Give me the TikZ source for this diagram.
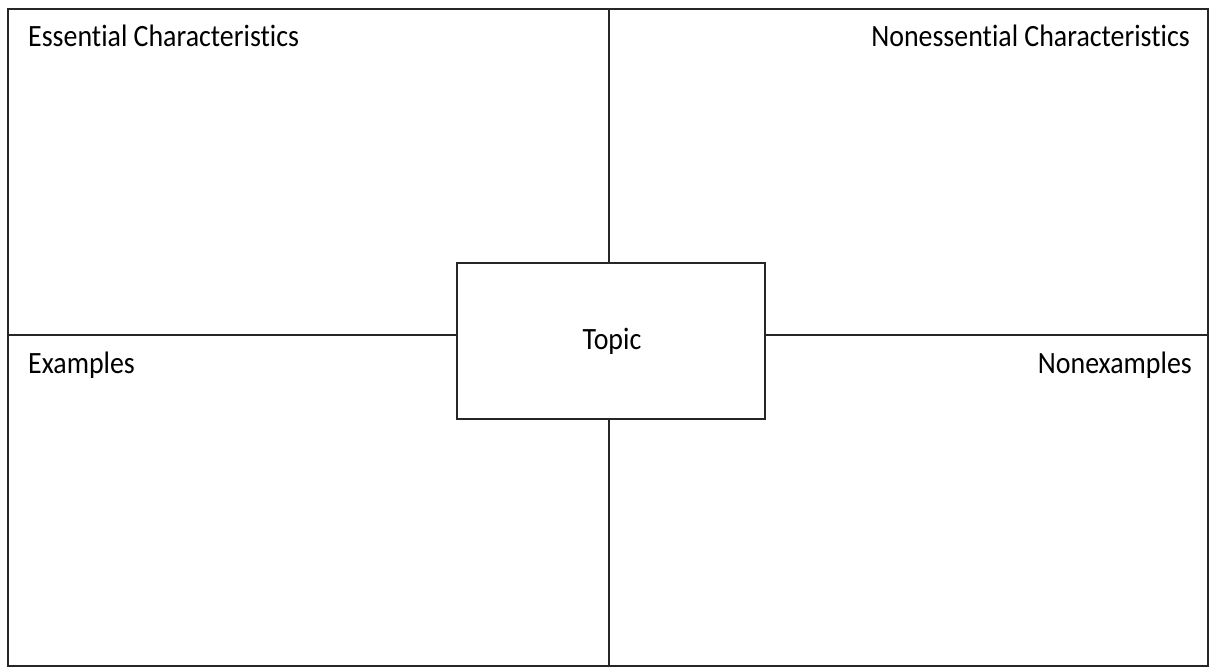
\documentclass[tikz,border=0pt]{standalone}
\usepackage{fontspec}
\setmainfont{Carlito}[FakeStretch=0.9,Ligatures=NoCommon]
\begin{document}
\begin{tikzpicture}[x=1pt,y=-1pt,
  frame/.style={draw=black!85,line width=2.4pt},
  lbl/.style={inner sep=0pt,font=\fontsize{31}{33}\selectfont},
  topicbox/.style={draw=black!85,line width=2.4pt,fill=white,minimum width=308pt,minimum height=156pt,inner sep=0pt}]
\useasboundingbox (0,0) rectangle (1212,670);
\coordinate (tl) at (8,9);
\coordinate (br) at (1208,666);
\coordinate (vt) at (609,9);
\coordinate (vb) at (609,666);
\coordinate (hl) at (8,335);
\coordinate (hr) at (1208,335);
\draw[frame] (tl) rectangle (br);
\node[topicbox] (topic) at (611,341) {};
\draw[frame] (vt) -- (topic.north -| vt);
\draw[frame] (topic.south -| vb) -- (vb);
\draw[frame] (hl) -- (topic.west |- hl);
\draw[frame] (topic.east |- hr) -- (hr);
\node[lbl,anchor=base west] (ess) at (28,46) {Essential Characteristics};
\node[lbl,anchor=base east] (noness) at (1190,46) {Nonessential Characteristics};
\node[lbl,anchor=base west] (ex) at (28,373) {Examples};
\node[lbl,anchor=base east] (nonex) at (1192,373) {Nonexamples};
\node[lbl,anchor=base] (tp) at (612,349) {Topic};
\end{tikzpicture}
\end{document}
